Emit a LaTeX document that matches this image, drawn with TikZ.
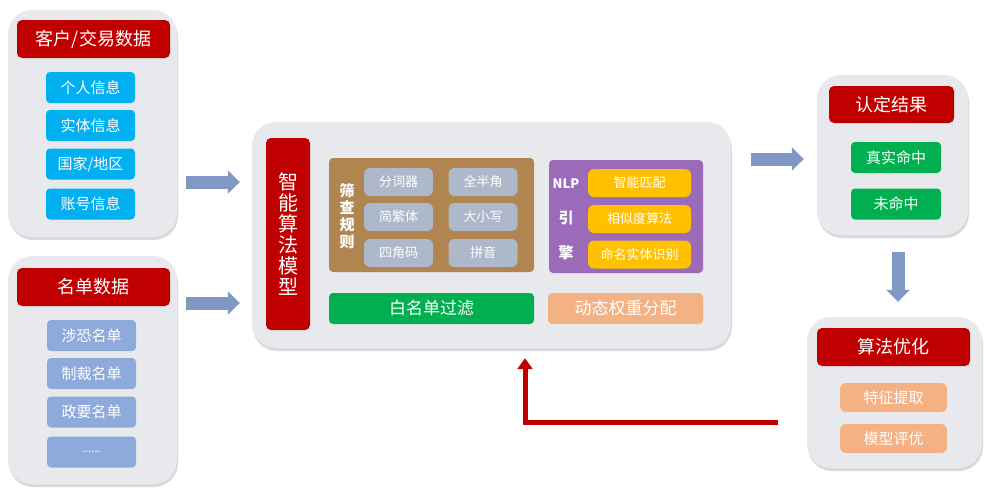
\documentclass[tikz,border=0pt]{standalone}
\usepackage{fontspec}
\setmainfont{Noto Sans CJK SC}
\usetikzlibrary{arrows.meta,positioning,calc,shadows}

\definecolor{panelgray}{HTML}{E8E9ED}
\definecolor{headred}{HTML}{C00000}
\definecolor{skyblue}{HTML}{00B0F0}
\definecolor{listblue}{HTML}{8EAADB}
\definecolor{rulebrown}{HTML}{B08550}
\definecolor{rulegray}{HTML}{ADB9CA}
\definecolor{nlppurple}{HTML}{9B6BBA}
\definecolor{nlpyellow}{HTML}{FFC000}
\definecolor{okgreen}{HTML}{00B050}
\definecolor{peach}{HTML}{F4B183}
\definecolor{arrowblue}{HTML}{7F98C4}

\begin{document}
\begin{tikzpicture}[x=1pt,y=-1pt,
    sz/.style 2 args={minimum width=#1pt,minimum height=#2pt},
    panel/.style={fill=panelgray,rounded corners=24pt,inner sep=0pt,
      drop shadow={opacity=0.3,shadow xshift=1pt,shadow yshift=-3pt}},
    head/.style={fill=headred,text=white,rounded corners=5pt,inner sep=0pt,
      font=\fontsize{18}{20}\selectfont},
    item/.style={rounded corners=4pt,text=white,inner sep=0pt,
      font=\fontsize{15}{17}\selectfont},
    small/.style={item,font=\fontsize{13}{15}\selectfont},
    tag/.style={text=white,inner sep=0pt,font=\bfseries\fontsize{15}{17}\selectfont},
    bluearrow/.style={arrowblue,line width=13pt,-{Triangle[length=12pt,width=23pt]}},
    redarrow/.style={headred,line width=5pt,-{Triangle[length=11pt,width=15pt]}}]
    \useasboundingbox (0,0) rectangle (991,493);

    % Customer / transaction data
    \node[panel,sz={169}{227}] (cust) at (92.5,123.5) {};
    \node[head,sz={153}{38}] (custhead) at (93.5,39) {客户/交易数据};
    \foreach \t/\y [count=\i] in {个人信息/87.5,实体信息/125.5,{国家/地区}/164,账号信息/204}
      \node[item,fill=skyblue,sz={89}{31}] (cust\i) at (90.5,\y) {\t};

    % List data
    \node[panel,sz={169}{228}] (list) at (92.5,370) {};
    \node[head,sz={153}{38}] (listhead) at (93.5,287) {名单数据};
    \foreach \t/\y [count=\i] in {涉恐名单/335.5,制裁名单/373.5,政要名单/412}
      \node[item,fill=listblue,sz={89}{31}] (list\i) at (91.5,\y) {\t};
    \node[item,fill=listblue,sz={89}{31},font=\fontsize{11}{13}\selectfont] (list4) at (91.5,452) {......};

    % Algorithm model
    \node[panel,sz={479}{226}] (algo) at (491.5,235) {};
    \node[fill=headred,text=white,rounded corners=5pt,sz={44}{192},inner sep=0pt,
      align=center,font=\fontsize{20}{21}\selectfont] (model) at (288,234)
      {智\\能\\算\\法\\模\\型};

    \node[fill=rulebrown,rounded corners=4pt,sz={205}{114}] (rules) at (431.5,215) {};
    \node[tag,align=center,font=\bfseries\fontsize{15}{17}\selectfont] (rulestag) at (347,216)
      {筛\\查\\规\\则};
    \foreach \t/\x/\y [count=\i] in {分词器/398.5/182,全半角/483/182,简繁体/398.5/217,
        大小写/483/217,四角码/398.5/253,拼音/483/253}
      \node[small,fill=rulegray,rounded corners=6pt,sz={69}{28}] (rule\i) at (\x,\y) {\t};

    \node[fill=nlppurple,rounded corners=4pt,sz={154}{113}] (nlp) at (626,216.5) {};
    \node[tag,font=\bfseries\fontsize{13}{15}\selectfont] (nlptag) at (566,184) {NLP};
    \node[tag] (nlpyin) at (566,218) {引};
    \node[tag] (nlpqing) at (566,253) {擎};
    \foreach \t/\y [count=\i] in {智能匹配/183,相似度算法/219,命名实体识别/254.5}
      \node[small,fill=nlpyellow,rounded corners=6pt,sz={103}{28}] (nlp\i) at (639.5,\y) {\t};

    \node[item,fill=okgreen,sz={205}{31},font=\fontsize{17}{19}\selectfont] (white) at (431.5,308.5) {白名单过滤};
    \node[item,fill=peach,sz={155}{31},font=\fontsize{17}{19}\selectfont] (weight) at (625.5,308.5) {动态权重分配};

    % Result
    \node[panel,sz={151}{160}] (result) at (892.5,155) {};
    \node[head,sz={125}{37}] (resulthead) at (891.5,104.5) {认定结果};
    \foreach \t/\y [count=\i] in {真实命中/157.5,未命中/204}
      \node[item,fill=okgreen,sz={90}{31}] (result\i) at (896,\y) {\t};

    % Optimisation
    \node[panel,sz={175}{151}] (optim) at (894.5,392.5) {};
    \node[head,sz={153}{38}] (optimhead) at (893.5,347) {算法优化};
    \foreach \t/\y [count=\i] in {特征提取/397.5,模型评优/438.5}
      \node[item,fill=peach,rounded corners=6pt,sz={107}{29}] (optim\i) at (893.5,\y) {\t};

    % Flow
    \draw[bluearrow,shorten <=9pt,shorten >=12pt] (cust.east |- 0,182) -- (algo.west |- 0,182);
    \draw[bluearrow,shorten <=9pt,shorten >=12pt] (list.east |- 0,303) -- (algo.west |- 0,303);
    \draw[bluearrow,shorten <=20pt,shorten >=13pt] (algo.east |- 0,159) -- (result.west |- 0,159);
    \draw[bluearrow,shorten <=17pt,shorten >=15pt] (result.south -| 898,0) -- (optim.north -| 898,0);

    \coordinate (turn) at (525,422);
    \draw[redarrow,shorten <=29pt,shorten >=10pt] (optim.west |- turn) -- (turn) -- (turn |- algo.south);
\end{tikzpicture}
\end{document}
